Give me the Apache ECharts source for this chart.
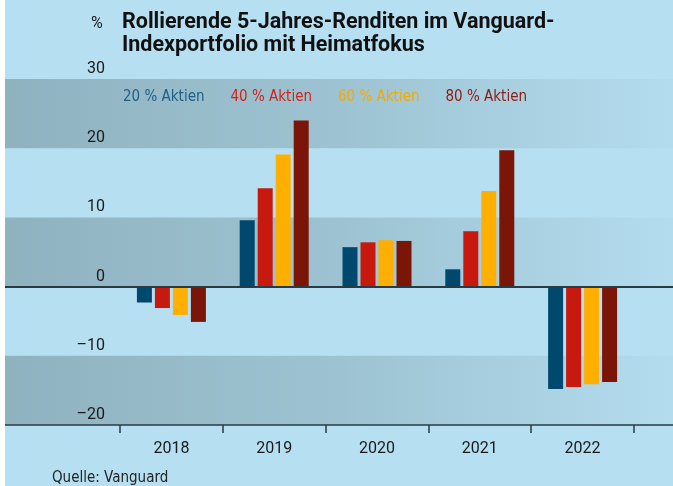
<!DOCTYPE html>
<html>
<head>
<meta charset="utf-8">
<script src="https://cdn.jsdelivr.net/npm/echarts@6/dist/echarts.min.js"></script>
<style>
  html, body { margin: 0; padding: 0; background: #fff; }
  #chart { position: absolute; left: 5px; top: 0; width: 668px; height: 486px; background: #b6e0f2; }
</style>
</head>
<body>
<div id="chart"></div>
<script>
var years = ['2018', '2019', '2020', '2021', '2022']
var seriesNames = ['20 % Aktien', '40 % Aktien', '60 % Aktien', '80 % Aktien']
var aktien20 = [-2.3, 9.6, 5.7, 2.5, -14.8]
var aktien40 = [-3.1, 14.2, 6.4, 8.0, -14.5]
var aktien60 = [-4.1, 19.1, 6.7, 13.8, -14.1]
var aktien80 = [-5.1, 24.0, 6.6, 19.7, -13.8]
var yTicks = [-20, -10, 0, 10, 20, 30]

var barColors = ['#00486e', '#c8190f', '#ffaf00', '#7a1508']
var legendColors = ['#1d5f86', '#d3231b', '#f7a900', '#8c1c12']
var narrowFont = "'DejaVu Sans Condensed', 'Liberation Sans Narrow', Roboto, sans-serif"

var myChart = echarts.init(document.getElementById('chart'))

var grayBand = new echarts.graphic.LinearGradient(0, 0, 1, 0, [
  { offset: 0, color: '#8fb2bf' },
  { offset: 0.5, color: '#9dc3d2' },
  { offset: 1, color: '#b3dcee' }
])

var allValues = [aktien20, aktien40, aktien60, aktien80]
var series = []
for (var i = 0; i < allValues.length; i++) {
  series.push({
    name: seriesNames[i],
    type: 'bar',
    xAxisIndex: 1,
    yAxisIndex: 1,
    data: allValues[i],
    barWidth: 15,
    barGap: '20%',
    itemStyle: { color: barColors[i] }
  })
}
// Nulllinie ueber die ganze Breite
series.push({
  type: 'line',
  xAxisIndex: 0,
  yAxisIndex: 0,
  data: [],
  silent: true,
  markLine: {
    silent: true,
    symbol: 'none',
    label: { show: false },
    lineStyle: { color: '#2a3a42', width: 2, type: 'solid' },
    data: [{ yAxis: 0 }]
  }
})

var option = {
  animation: false,
  title: [{
    text: 'Rollierende 5-Jahres-Renditen im Vanguard-\nIndexportfolio mit Heimatfokus',
    left: 112,
    top: 6,
    textStyle: { fontFamily: 'Roboto', fontWeight: 'bold', fontSize: 21.5, lineHeight: 23, color: '#111' }
  }, {
    text: '%',
    left: 81,
    top: 11,
    textStyle: { fontFamily: 'Roboto', fontWeight: 'normal', fontSize: 16, color: '#222' }
  }, {
    text: 'Quelle: Vanguard',
    left: 42,
    top: 466,
    textStyle: { fontFamily: narrowFont, fontWeight: 'normal', fontSize: 15, color: '#222' }
  }],
  legend: {
    left: 108,
    top: 85,
    itemWidth: 0,
    itemHeight: 0,
    itemGap: 21,
    icon: 'none',
    data: seriesNames.map(function (n, i) {
      return { name: n, textStyle: { color: legendColors[i] } }
    }),
    textStyle: { fontFamily: narrowFont, fontSize: 15 }
  },
  grid: [
    { left: 0, right: 0, top: 79, bottom: 61 },
    { left: 115, right: 39, top: 79, bottom: 61 }
  ],
  xAxis: [{
    gridIndex: 0,
    type: 'value',
    min: 0,
    max: 1,
    axisLine: { show: true, onZero: false, lineStyle: { color: '#2a3a42', width: 1.5 } },
    axisTick: { show: false },
    axisLabel: { show: false },
    splitLine: { show: false }
  }, {
    gridIndex: 1,
    type: 'category',
    data: years,
    axisLine: { show: false, onZero: false },
    axisTick: { show: true, length: 8, lineStyle: { color: '#2a3a42', width: 1.5 } },
    axisLabel: { fontFamily: 'Roboto', fontSize: 16, color: '#1a1a1a', margin: 16 },
    splitLine: { show: false }
  }],
  yAxis: [{
    gridIndex: 0,
    type: 'value',
    min: yTicks[0],
    max: yTicks[yTicks.length - 1],
    interval: 10,
    axisLine: { show: false },
    axisTick: { show: false },
    splitLine: { show: false },
    splitArea: { show: true, areaStyle: { color: [grayBand, 'rgba(0,0,0,0)'] } },
    axisLabel: {
      inside: true,
      margin: 100,
      align: 'right',
      verticalAlign: 'bottom',
      padding: [0, 0, 2, 0],
      fontFamily: 'Roboto',
      fontSize: 16,
      color: '#1a1a1a',
      formatter: function (v) { return String(v).replace('-', '\u2013') }
    }
  }, {
    gridIndex: 1,
    type: 'value',
    min: yTicks[0],
    max: yTicks[yTicks.length - 1],
    interval: 10,
    show: false
  }],
  series: series
}
myChart.setOption(option)
</script>
</body>
</html>
